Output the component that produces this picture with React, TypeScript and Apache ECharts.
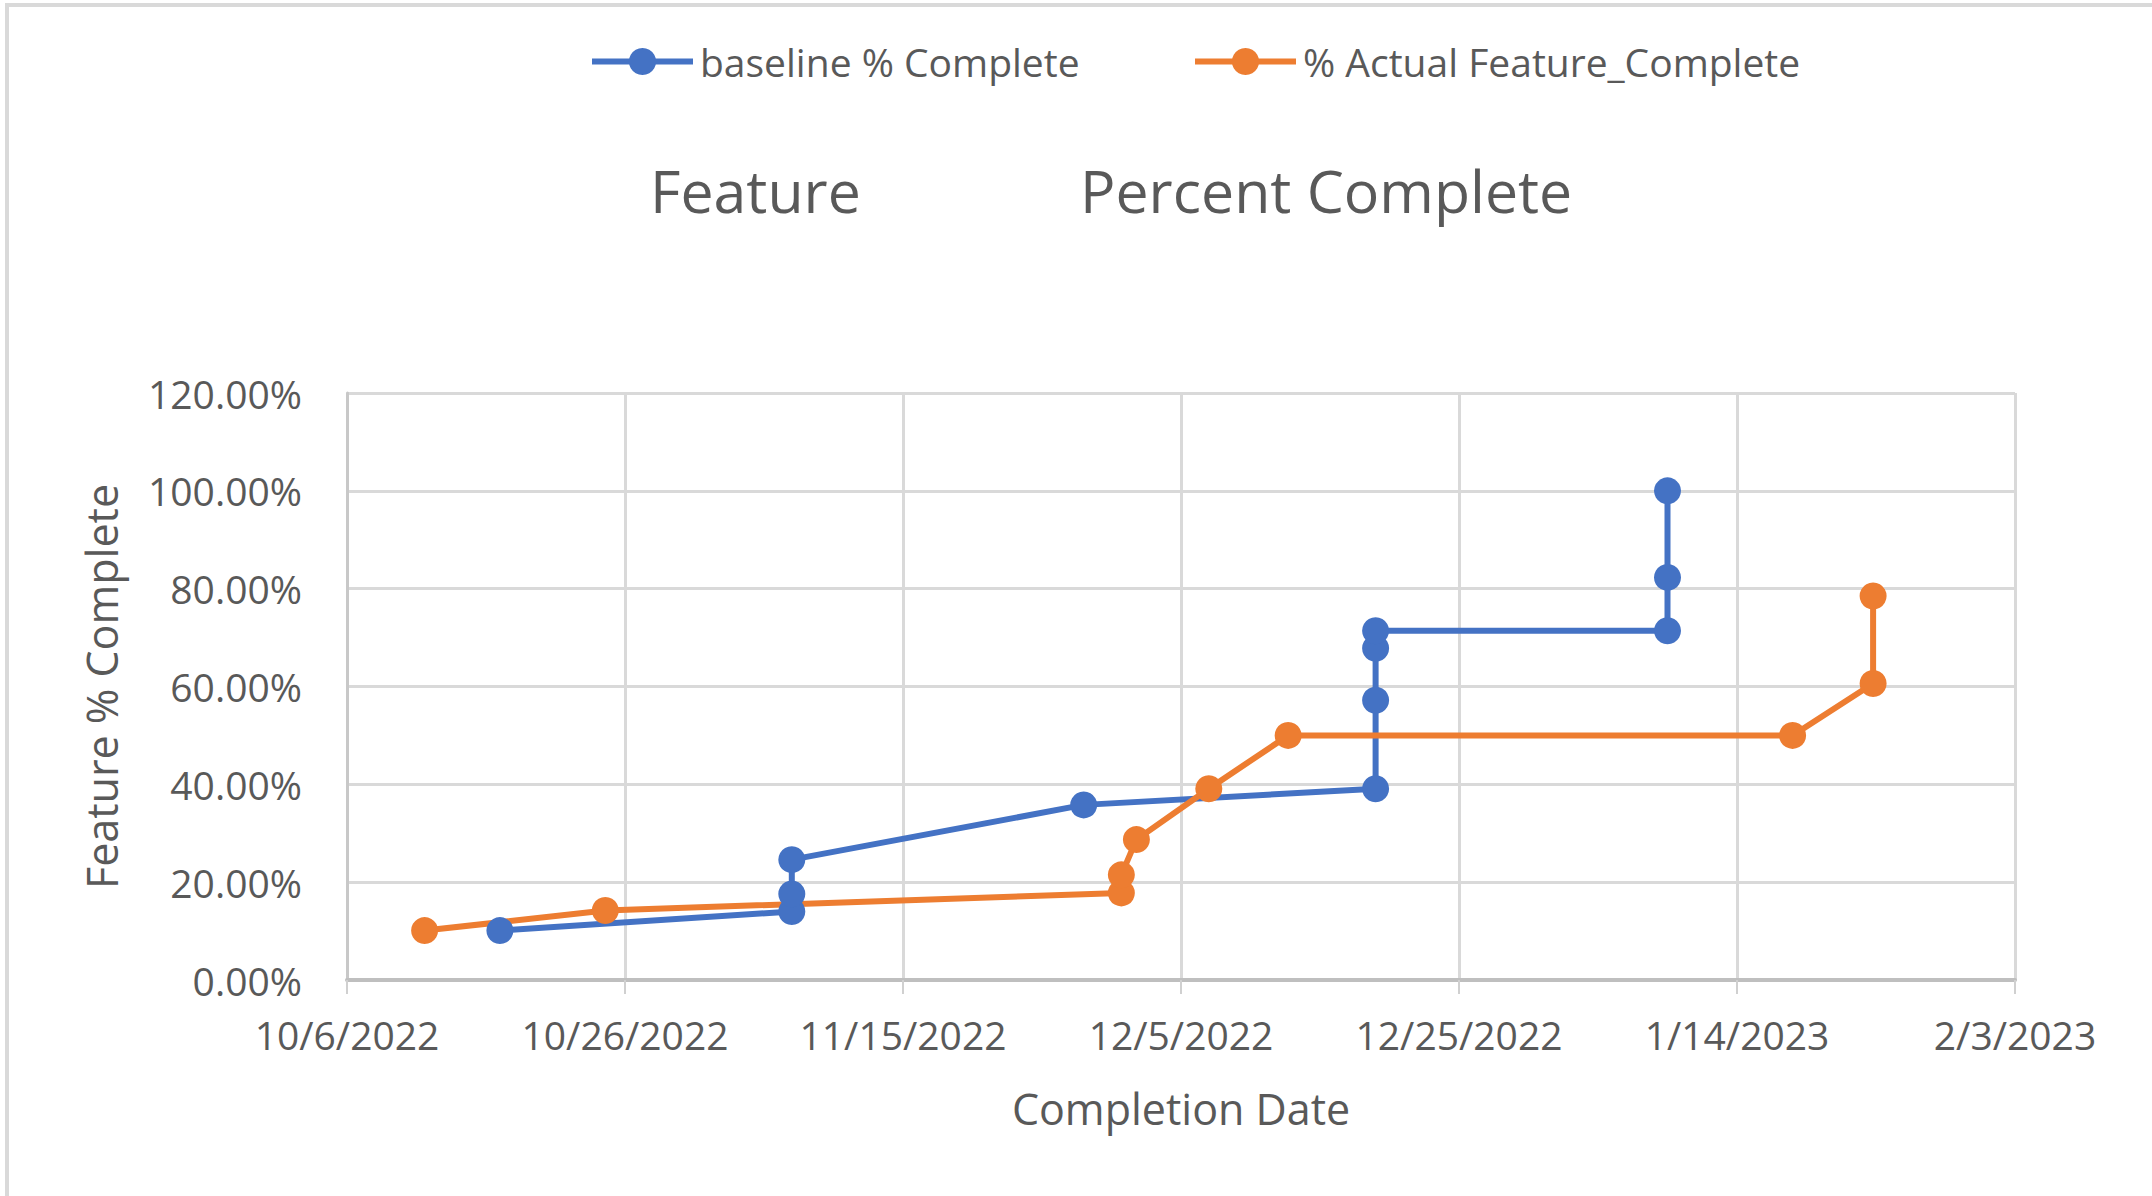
import React, { useEffect, useRef } from "react";
import * as echarts from "echarts";

const BASE = Date.UTC(2022, 9, 6);
const DAY = 86400000;

const seriesNames = ["baseline % Complete", "% Actual Feature_Complete"];
const titleParts = ["Feature", "Percent Complete"];
const xAxisTitle = "Completion Date";
const yAxisTitle = "Feature % Complete";

const baselineDates = [
  "2022-10-17", "2022-11-07", "2022-11-07", "2022-11-07", "2022-11-28",
  "2022-12-19", "2022-12-19", "2022-12-19", "2022-12-19",
  "2023-01-09", "2023-01-09", "2023-01-09",
];
const baselineValues = [10.1, 14.0, 17.6, 24.6, 35.8, 39.1, 57.2, 67.8, 71.4, 71.4, 82.3, 100.0];

const actualDates = [
  "2022-10-11 14:00", "2022-10-24 14:00", "2022-11-30 17:00", "2022-11-30 17:00",
  "2022-12-01 19:00", "2022-12-07 00:00", "2022-12-12 17:00", "2023-01-18 00:00",
  "2023-01-23 19:00", "2023-01-23 19:00",
];
const actualValues = [10.1, 14.2, 17.8, 21.5, 28.7, 39.1, 50.0, 50.0, 60.6, 78.5];

const xMinDay = 0;   // 10/6/2022
const xMaxDay = 120; // 2/3/2023
const xStepDays = 20;
const yMax = 120;
const yStep = 20;

function toDay(s: string): number {
  const [d, t] = s.split(" ");
  const [y, m, dd] = d.split("-").map(Number);
  const [hh, mi] = t ? t.split(":").map(Number) : [0, 0];
  return (Date.UTC(y, m - 1, dd, hh, mi) - BASE) / DAY;
}

function fmtDay(v: number): string {
  const dt = new Date(BASE + Math.round(v) * DAY);
  return `${dt.getUTCMonth() + 1}/${dt.getUTCDate()}/${dt.getUTCFullYear()}`;
}

const FONT = "'Open Sans', sans-serif";
const TEXT = "#595959";
const BLUE = "#4472C4";
const ORANGE = "#ED7D31";

export default function App() {
  const ref = useRef<HTMLDivElement>(null);
  useEffect(() => {
    if (!ref.current) return;
    const chart = echarts.init(ref.current, undefined, { renderer: "svg" });
    const blueData = baselineDates.map((d, i) => [toDay(d), baselineValues[i]]);
    const orangeData = actualDates.map((d, i) => [toDay(d), actualValues[i]]);
    const legendCommon = {
      top: 37,
      itemWidth: 101,
      itemHeight: 34,
      lineStyle: { width: 6 },
      textStyle: { color: TEXT, fontFamily: FONT, fontSize: 39, padding: [0, 0, 0, 2] },
    };
    chart.setOption({
      animation: false,
      backgroundColor: "#ffffff",
      textStyle: { fontFamily: FONT },
      title: [
        { text: titleParts[0], left: 645, top: 155, textStyle: { color: TEXT, fontFamily: FONT, fontSize: 59, fontWeight: "normal" } },
        { text: titleParts[1], left: 1075, top: 155, textStyle: { color: TEXT, fontFamily: FONT, fontSize: 59, fontWeight: "normal" } },
      ],
      legend: [
        { ...legendCommon, left: 584, data: [{ name: seriesNames[0] }] },
        { ...legendCommon, left: 1187, data: [{ name: seriesNames[1] }] },
      ],
      graphic: [
        {
          type: "rect",
          shape: { x: 7, y: 5, width: 2300, height: 1400 },
          style: { fill: "none", stroke: "#d9d9d9", lineWidth: 4 },
          silent: true,
        },
      ],
      grid: { left: 347, right: 137, top: 393, bottom: 216, containLabel: false },
      xAxis: {
        type: "value",
        min: xMinDay,
        max: xMaxDay,
        interval: xStepDays,
        name: xAxisTitle,
        nameLocation: "middle",
        nameGap: 107,
        nameTextStyle: { color: TEXT, fontFamily: FONT, fontSize: 43 },
        axisLine: { show: true, lineStyle: { color: "#bfbfbf", width: 4 } },
        axisTick: { show: true, length: 14, lineStyle: { color: "#d0d0d0", width: 2 } },
        axisLabel: { color: TEXT, fontFamily: FONT, fontSize: 39, margin: 35, formatter: (v: number) => fmtDay(v) },
        splitLine: { show: true, lineStyle: { color: "#d9d9d9", width: 3 } },
      },
      yAxis: {
        type: "value",
        min: 0,
        max: yMax,
        interval: yStep,
        name: yAxisTitle,
        nameLocation: "middle",
        nameGap: 224,
        nameTextStyle: { color: TEXT, fontFamily: FONT, fontSize: 43 },
        axisLine: { show: true, lineStyle: { color: "#c8c8c8", width: 3 } },
        axisTick: { show: false },
        axisLabel: { color: TEXT, fontFamily: FONT, fontSize: 39, margin: 45, formatter: (v: number) => v.toFixed(2) + "%" },
        splitLine: { show: true, lineStyle: { color: "#d9d9d9", width: 3 } },
      },
      series: [
        {
          name: seriesNames[0],
          type: "line",
          data: blueData,
          symbol: "circle",
          symbolSize: 27,
          itemStyle: { color: BLUE },
          lineStyle: { color: BLUE, width: 6 },
        },
        {
          name: seriesNames[1],
          type: "line",
          data: orangeData,
          symbol: "circle",
          symbolSize: 27,
          itemStyle: { color: ORANGE },
          lineStyle: { color: ORANGE, width: 6 },
        },
      ],
    });
    return () => chart.dispose();
  }, []);
  return (
    <div
      ref={ref}
      style={{ position: "absolute", left: 0, top: 0, width: 2152, height: 1196, background: "#fff" }}
    />
  );
}
